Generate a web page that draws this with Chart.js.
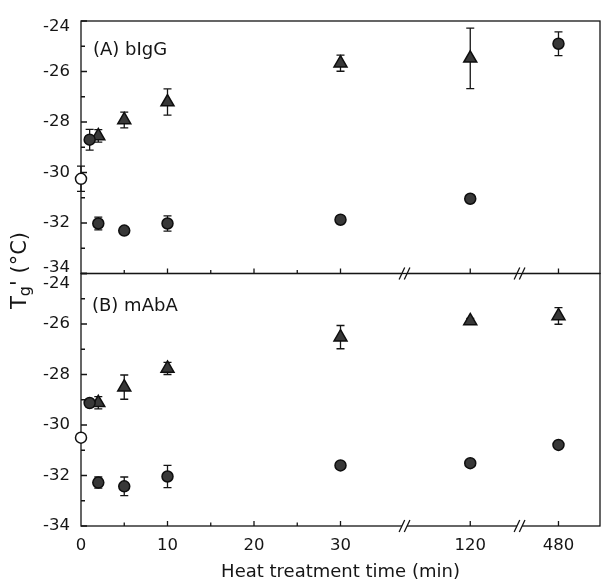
<!DOCTYPE html>
<html>
<head>
<meta charset="utf-8">
<script src="https://cdn.jsdelivr.net/npm/chart.js@4.4.1/dist/chart.umd.min.js"></script>
<style>
  html, body { margin: 0; padding: 0; background: #fff; }
  #wrap { position: relative; width: 601px; height: 586px; }
</style>
</head>
<body>
<div id="wrap"><canvas id="c"></canvas></div>
<script>
// ---------- data ----------
const times = [1, 2, 5, 10, 30, 120, 480];            // heat treatment time (min)
const xTickValues = [0, 10, 20, 30, 120, 480];        // labelled x ticks
const xMinorTickValues = [5, 15, 25];
const yMajorTicks = [-34, -32, -30, -28, -26, -24];
const yMinorTicks = [-33, -31, -29, -27, -25];
const panelLabels = ['(A) bIgG', '(B) mAbA'];

// (A) bIgG
const bIgGControl = [-30.25];          // unheated (time 0), open circle
const bIgGControlErr = [0.5];
const bIgGCircle = [-28.70, -32.02, -32.30, -32.02, -31.87, -31.04, -24.90];
const bIgGCircleErr = [0.41, 0.25, 0.10, 0.30, 0.10, 0.10, 0.47];
const bIgGTriangle = [null, -28.55, -27.92, -27.21, -25.67, -25.48, null];
const bIgGTriangleErr = [null, 0.25, 0.31, 0.52, 0.32, 1.20, null];

// (B) mAbA
const mAbAControl = [-30.50];
const mAbAControlErr = [0];
const mAbACircle = [-29.13, -32.28, -32.43, -32.04, -31.60, -31.51, -30.79];
const mAbACircleErr = [0.10, 0.22, 0.37, 0.44, 0.10, 0.10, 0.05];
const mAbATriangle = [null, -29.12, -28.50, -27.76, -26.52, -25.88, -25.68];
const mAbATriangleErr = [null, 0.24, 0.48, 0.24, 0.46, 0.10, 0.33];

// broken time axis: 0-30 linear, then 120 and 480 after axis breaks
function toAxis(t) { return t <= 30 ? t : (t === 120 ? 45 : 55.2); }
const axisBreaks = [37.4, 50.7];   // where the // marks sit (axis units)

const FAM = "'DejaVu Sans', 'Liberation Sans', sans-serif";
const INK = '#151515';

function pts(vals) {
  return times.map((t, i) => ({ x: toAxis(t), y: vals[i] })).filter(p => p.y !== null);
}
function errs(vals, e) {
  return vals.map((v, i) => e[i]).filter((v, i) => vals[i] !== null);
}

const filled = { backgroundColor: '#383838', borderColor: '#0e0e0e', borderWidth: 1.5 };

const datasets = [
  { label: 'bIgG control', data: [{ x: 0, y: bIgGControl[0] }], errors: bIgGControlErr, yAxisID: 'yA',
    pointStyle: 'circle', pointRadius: 5.5, backgroundColor: '#fff', borderColor: '#111', borderWidth: 1.5 },
  { label: 'bIgG circle', data: pts(bIgGCircle), errors: errs(bIgGCircle, bIgGCircleErr), yAxisID: 'yA',
    pointStyle: 'circle', pointRadius: 5.5, ...filled },
  { label: 'bIgG triangle', data: pts(bIgGTriangle), errors: errs(bIgGTriangle, bIgGTriangleErr), yAxisID: 'yA',
    pointStyle: 'triangle', pointRadius: 7.5, ...filled },
  { label: 'mAbA control', data: [{ x: 0, y: mAbAControl[0] }], errors: mAbAControlErr, yAxisID: 'yB',
    pointStyle: 'circle', pointRadius: 5.5, backgroundColor: '#fff', borderColor: '#111', borderWidth: 1.5 },
  { label: 'mAbA circle', data: pts(mAbACircle), errors: errs(mAbACircle, mAbACircleErr), yAxisID: 'yB',
    pointStyle: 'circle', pointRadius: 5.5, ...filled },
  { label: 'mAbA triangle', data: pts(mAbATriangle), errors: errs(mAbATriangle, mAbATriangleErr), yAxisID: 'yB',
    pointStyle: 'triangle', pointRadius: 7.5, ...filled },
].map(d => Object.assign({ showLine: false, clip: false, pointHoverRadius: d.pointRadius }, d));

const decor = {
  id: 'decor',
  beforeDatasetsDraw(chart) {
    const { ctx, chartArea: ca, scales } = chart;
    const xs = scales.x;
    ctx.save();
    ctx.strokeStyle = INK;
    ctx.lineWidth = 1.3;
    ['yA', 'yB'].forEach(id => {
      const s = scales[id];
      // panel frame
      ctx.strokeRect(ca.left, s.top, ca.right - ca.left, s.bottom - s.top);
      // y ticks (inside)
      ctx.beginPath();
      yMajorTicks.forEach(v => { const p = s.getPixelForValue(v); ctx.moveTo(ca.left, p); ctx.lineTo(ca.left + 6, p); });
      yMinorTicks.forEach(v => { const p = s.getPixelForValue(v); ctx.moveTo(ca.left, p); ctx.lineTo(ca.left + 4, p); });
      // x ticks (inside, pointing up)
      xTickValues.slice(1).forEach(t => { const p = xs.getPixelForValue(toAxis(t)); ctx.moveTo(p, s.bottom); ctx.lineTo(p, s.bottom - 5); });
      xMinorTickValues.forEach(t => { const p = xs.getPixelForValue(toAxis(t)); ctx.moveTo(p, s.bottom); ctx.lineTo(p, s.bottom - 3.5); });
      ctx.stroke();
      // axis breaks
      axisBreaks.forEach(b => {
        const p = xs.getPixelForValue(b);
        ctx.fillStyle = '#fff';
        ctx.fillRect(p - 2.5, s.bottom - 1.5, 5, 3);
        ctx.beginPath();
        [-2.6, 2.6].forEach(dx => { ctx.moveTo(p + dx - 2.8, s.bottom + 6); ctx.lineTo(p + dx + 2.8, s.bottom - 6); });
        ctx.stroke();
      });
    });
    // error bars
    ctx.lineWidth = 1.3;
    chart.data.datasets.forEach((ds, i) => {
      const meta = chart.getDatasetMeta(i);
      const ys = scales[ds.yAxisID];
      ds.data.forEach((pt, j) => {
        const e = ds.errors[j];
        if (!e) return;
        const px = meta.data[j].x;
        const y1 = ys.getPixelForValue(pt.y + e), y2 = ys.getPixelForValue(pt.y - e);
        ctx.beginPath();
        ctx.moveTo(px, y1); ctx.lineTo(px, y2);
        ctx.moveTo(px - 4, y1); ctx.lineTo(px + 4, y1);
        ctx.moveTo(px - 4, y2); ctx.lineTo(px + 4, y2);
        ctx.stroke();
      });
    });
    ctx.restore();
  },
  afterDraw(chart) {
    const { ctx, chartArea: ca, scales } = chart;
    ctx.save();
    ctx.fillStyle = INK;
    ctx.textBaseline = 'alphabetic';
    ctx.textAlign = 'left';
    ctx.font = `18px ${FAM}`;
    ctx.fillText(panelLabels[0], ca.left + 12, scales.yA.top + 34);
    ctx.fillText(panelLabels[1], ca.left + 11, scales.yB.top + 37);
    // y-axis title: T_g' (°C)
    ctx.translate(26, (ca.top + ca.bottom) / 2 - 3);
    ctx.rotate(-Math.PI / 2);
    const parts = [
      { t: 'T', f: `21px ${FAM}`, dy: 0 },
      { t: 'g', f: `16px ${FAM}`, dy: 4 },
      { t: "' (°C)", f: `21px ${FAM}`, dy: 0 },
    ];
    let total = 0;
    parts.forEach(p => { ctx.font = p.f; p.w = ctx.measureText(p.t).width; total += p.w; });
    let x0 = -total / 2;
    parts.forEach(p => { ctx.font = p.f; ctx.fillText(p.t, x0, p.dy); x0 += p.w; });
    ctx.restore();
  }
};

function yScale(lineHeight, labelFn) {
  return {
    type: 'linear', position: 'left', stack: 'panels', stackWeight: 1,
    min: -34, max: -24,
    afterBuildTicks: s => { s.ticks = yMajorTicks.map(v => ({ value: v })); },
    afterFit: s => { s.width = 76; s.paddingTop = 0; s.paddingBottom = 0; },
    grid: { display: false, drawTicks: false },
    border: { display: false },
    ticks: {
      autoSkip: false, padding: 11, color: INK,
      font: { family: FAM, size: 16.5, lineHeight: lineHeight },
      callback: labelFn
    }
  };
}

new Chart(document.getElementById('c'), {
  type: 'scatter',
  data: { datasets },
  options: {
    responsive: true, maintainAspectRatio: false, animation: false,
    layout: { autoPadding: false, padding: { left: 5, right: 1, top: 21, bottom: 0 } },
    plugins: { legend: { display: false }, tooltip: { enabled: false } },
    scales: {
      x: {
        type: 'linear', position: 'bottom', min: 0, max: 60,
        afterBuildTicks: s => { s.ticks = xTickValues.map(t => ({ value: toAxis(t) })); },
        afterFit: s => { s.height = 60; s.paddingLeft = 0; s.paddingRight = 0; },
        grid: { display: false, drawTicks: false },
        border: { display: false },
        ticks: {
          autoSkip: false, maxRotation: 0, padding: 10, color: INK,
          font: { family: FAM, size: 16.5 },
          callback: (v, i) => String(xTickValues[i])
        },
        title: {
          display: true, text: 'Heat treatment time (min)', color: INK,
          font: { family: FAM, size: 18 }, padding: { top: 0, bottom: 3 }
        }
      },
      // listed bottom panel first: Chart.js stacks left axes in reverse order
      yB: yScale(1.2, v => v === -24 ? ['', String(v)] : String(v)),
      yA: yScale(0.7, v => v === -24 ? ['', String(v)] : (v === -34 ? [String(v), ''] : String(v)))
    }
  },
  plugins: [decor]
});
</script>
</body>
</html>
